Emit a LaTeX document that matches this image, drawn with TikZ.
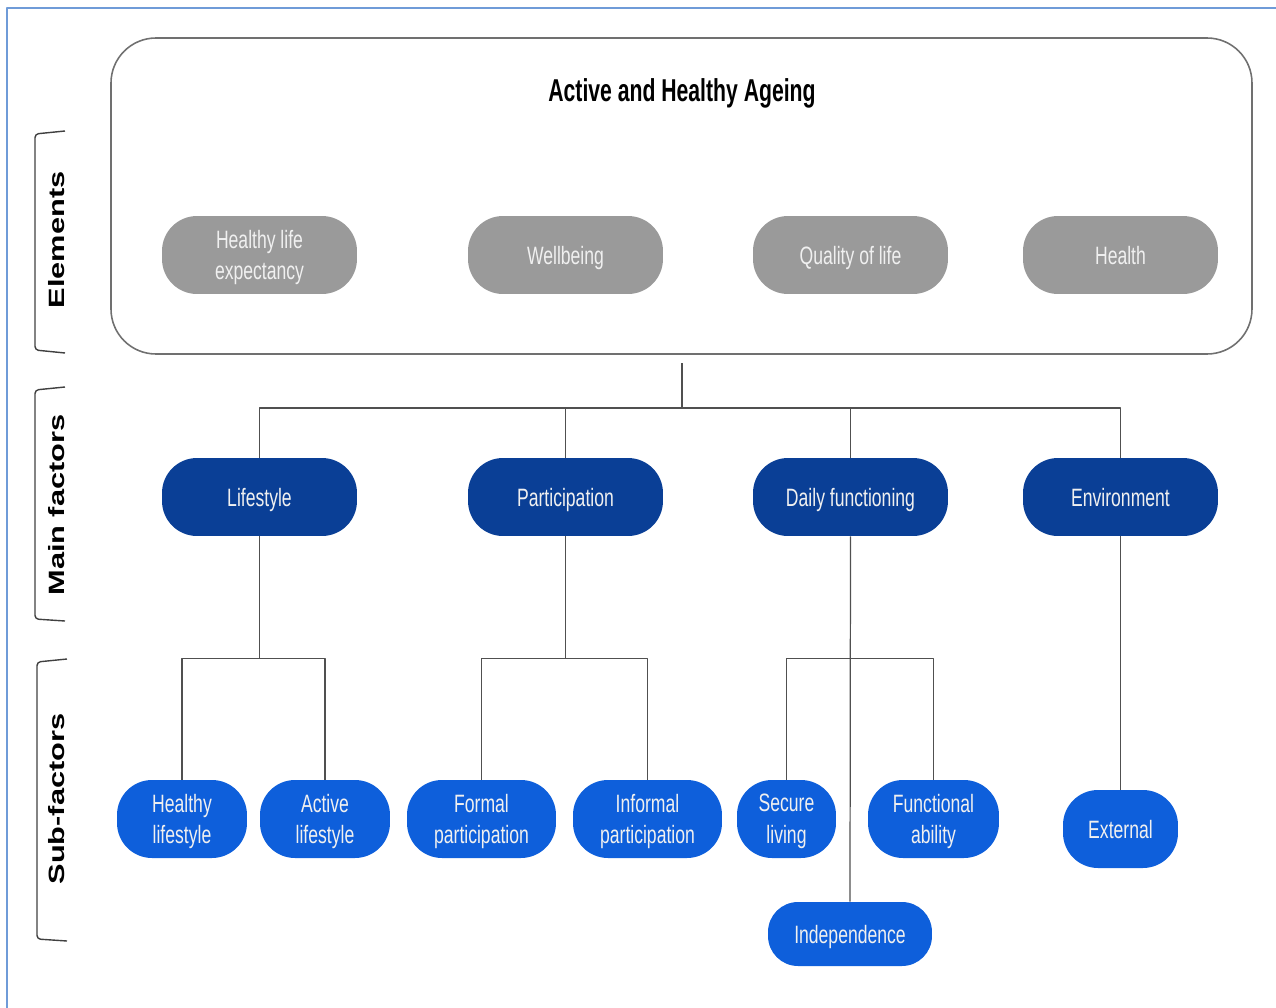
\documentclass[tikz,border=0pt]{standalone}
\usepackage{fontspec}
\usepackage{graphicx}
\setmainfont{Liberation Sans}[FakeStretch=0.7]
\newfontfamily\titlefont{Liberation Sans}[FakeStretch=0.67]
\newfontfamily\sidefont{Liberation Sans}
\definecolor{elemgrey}{HTML}{9A9A9A}
\definecolor{maindark}{HTML}{0A3F96}
\definecolor{subblue}{HTML}{0E5FDB}
\definecolor{linegrey}{HTML}{505050}
\definecolor{boxgrey}{HTML}{707070}
\definecolor{frameblue}{HTML}{6F9BD8}
\definecolor{pilltext}{HTML}{F0F0F0}
\tikzset{
  pill/.style={rounded corners=0.7cm, minimum height=1.56cm, align=center,
    text=pilltext, font=\fontsize{14.3}{18}\selectfont, inner sep=2pt, text depth=0pt},
  elem/.style={pill, fill=elemgrey, minimum width=3.9cm},
  mainf/.style={pill, fill=maindark, minimum width=3.9cm},
  subf/.style={pill, fill=subblue},
  link/.style={draw=linegrey, line width=0.7pt},
  bracket/.style={draw=black!75, line width=0.8pt, rounded corners=2pt},
  sidelabel/.style={rotate=90, font=\sidefont\bfseries\fontsize{17.5}{20}\selectfont}
}
\newcommand{\sidetext}[1]{\scalebox{1}[0.72]{#1}}
\begin{document}
\begin{tikzpicture}[x=0.02cm, y=-0.02cm, line join=round]
  \useasboundingbox (0,0) rectangle (1276,1008);
  % Cadre
  \draw[frameblue, line width=1.2pt] (7,1008) -- (7,8) -- (1276,8);

  % Grand cadre arrondi et titre
  \draw[boxgrey, line width=0.9pt, rounded corners=0.9cm] (111,38) rectangle (1252,354);
  \node[font=\titlefont\bfseries\fontsize{18}{21}\selectfont] (title) at (682,93) {Active and Healthy Ageing};

  % Elements
  \node[elem] (hle) at (259.5,255) {Healthy life\\expectancy};
  \node[elem] (well) at (565.5,255) {Wellbeing};
  \node[elem] (qol) at (850.5,255) {Quality of life};
  \node[elem] (health) at (1120.5,255) {Health};

  % Facteurs principaux
  \node[mainf] (life) at (259.5,497) {Lifestyle};
  \node[mainf] (part) at (565.5,497) {Participation};
  \node[mainf] (daily) at (850.5,497) {Daily functioning};
  \node[mainf] (env) at (1120.5,497) {Environment};

  % Sous-facteurs
  \node[subf, minimum width=2.6cm] (hlife) at (182,819) {Healthy\\lifestyle};
  \node[subf, minimum width=2.6cm] (alife) at (325,819) {Active\\lifestyle};
  \node[subf, minimum width=2.98cm] (formal) at (481.5,819) {Formal\\participation};
  \node[subf, minimum width=2.98cm] (informal) at (647.5,819) {Informal\\participation};
  \node[subf, minimum width=1.98cm] (secure) at (786.5,819) {Secure\\living};
  \node[subf, minimum width=2.62cm] (func) at (933.5,819) {Functional\\ability};
  \node[subf, minimum width=2.3cm] (ext) at (1120.5,829) {External};
  \node[subf, minimum width=3.28cm, minimum height=1.28cm, rounded corners=0.6cm] (indep) at (850,934) {Independence};

  % Liaisons
  \coordinate (hub) at (682,363);
  \draw[link] (hub) -- ++(0,45) coordinate (bus);
  \draw[link] (life.north) |- (bus) -| (env.north);
  \draw[link] (part.north) -- (part.north |- bus);
  \draw[link] (daily.north) -- (daily.north |- bus);

  \draw[link] (life.south) -- ++(0,122) coordinate (lfork);
  \draw[link] (hlife.north) |- (lfork) -| (alife.north);
  \draw[link] (part.south) -- ++(0,122) coordinate (pfork);
  \draw[link] (formal.north) |- (pfork) -| (informal.north);
  \draw[link] (daily.south) -- (indep.north);
  \path (daily.south) ++(0,122) coordinate (dfork);
  \draw[link] (secure.north) |- (dfork) -| (func.north);
  \draw[link] (env.south) -- (ext.north);

  % Accolades et étiquettes latérales
  \draw[bracket] (65,131) -- (35,134) -- (35,350) -- (65,353);
  \draw[bracket] (65,387) -- (35,390) -- (35,619) -- (65,621);
  \draw[bracket] (67,659) -- (37,662) -- (37,939) -- (67,941);
  \node[sidelabel] (elements) at (57,240) {\sidetext{Elements}};
  \node[sidelabel] (mainlab) at (57,505) {\sidetext{Main factors}};
  \node[sidelabel] (sublab) at (57,799) {\sidetext{Sub-factors}};
\end{tikzpicture}
\end{document}
